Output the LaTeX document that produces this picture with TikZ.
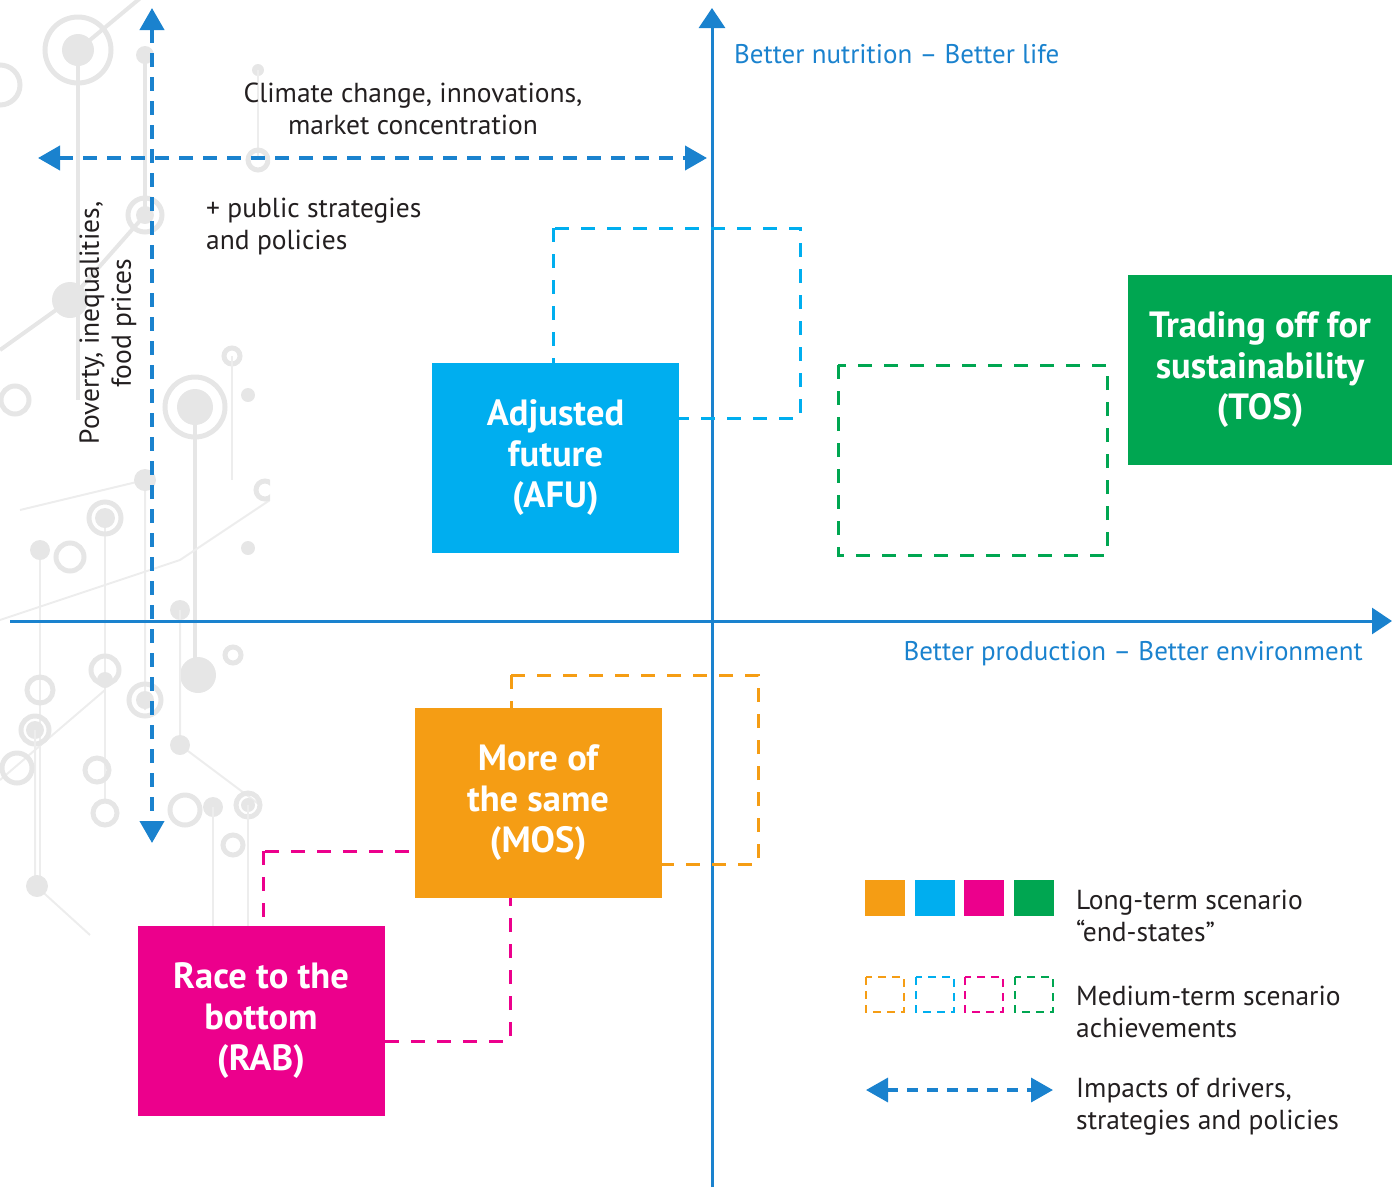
\documentclass[tikz,border=0pt]{standalone}
\usepackage{fontspec}
\setmainfont{PT Sans}
\usetikzlibrary{arrows.meta}
\definecolor{axisblue}{RGB}{26,130,206}
\definecolor{afucol}{RGB}{0,174,239}
\definecolor{toscol}{RGB}{0,166,81}
\definecolor{moscol}{RGB}{245,157,20}
\definecolor{rabcol}{RGB}{236,0,140}
\definecolor{txtcol}{RGB}{35,31,32}
\definecolor{bgcol}{RGB}{230,230,230}
\tikzset{
  axisline/.style={draw=axisblue, line width=3pt, -{Triangle[length=20pt,width=26pt]}},
  drvarrow/.style={draw=axisblue, line width=4pt, dash pattern=on 14pt off 10pt,
    {Triangle[length=22pt,width=24pt]}-{Triangle[length=22pt,width=24pt]}},
  endbox/.style={minimum width=247pt, minimum height=190pt, inner sep=0pt, text=white,
    font=\fontsize{36.5}{41}\selectfont\bfseries, align=center},
  midbox/.style={line width=3pt, dash pattern=on 14pt off 12pt},
  bodytxt/.style={text=txtcol, font=\fontsize{27.5}{32}\selectfont, inner sep=0pt},
  axtxt/.style={text=axisblue, font=\fontsize{27}{32}\selectfont, inner sep=0pt},
  bgline/.style={draw=bgcol, line width=4pt},
  bgthin/.style={draw=bgcol!70, line width=2pt},
  bgdot/.style={fill=bgcol},
  bgring/.style={draw=bgcol, line width=5pt},
}
\begin{document}
\begin{tikzpicture}[x=1pt,y=-1pt]
\useasboundingbox (0,0) rectangle (1392,1187);
% faint background circuit pattern
\begin{scope}
\clip (0,0) rectangle (270,935);
\draw[bgline] (78,50) -- (78,400);
\draw[bgring] (78,50) circle (33);
\fill[bgdot] (78,50) circle (16);
\draw[bgline] (78,50) -- (150,-10);
\draw[bgline] (145,55) -- (145,210);
\fill[bgdot] (145,55) circle (9);
\draw[bgring] (145,215) circle (17);
\fill[bgdot] (145,215) circle (9);
\draw[bgline] (145,215) -- (70,300);
\fill[bgdot] (70,300) circle (18);
\draw[bgline] (70,300) -- (0,350);
\draw[bgline] (195,405) -- (195,670);
\draw[bgring] (195,407) circle (30);
\fill[bgdot] (195,407) circle (18);
\fill[bgdot] (198,675) circle (18);
\draw[bgthin] (20,510) -- (145,480) -- (145,710);
\fill[bgdot] (145,480) circle (11);
\draw[bgring] (145,700) circle (16);
\fill[bgdot] (145,700) circle (9);
\draw[bgthin] (40,550) -- (40,880);
\fill[bgdot] (40,550) circle (10);
\draw[bgring] (70,557) circle (14);
\draw[bgthin] (105,518) -- (105,800);
\draw[bgring] (105,518) circle (16);
\fill[bgdot] (105,518) circle (10);
\draw[bgthin] (0,620) -- (180,560) -- (270,500);
\fill[bgdot] (180,610) circle (10);
\draw[bgthin] (180,610) -- (180,745) -- (260,805);
\fill[bgdot] (180,745) circle (10);
\draw[bgring] (105,670) circle (14);
\fill[bgdot] (105,680) circle (8);
\draw[bgthin] (0,780) -- (105,690);
\draw[bgring] (40,690) circle (13);
\draw[bgring] (35,730) circle (14);
\fill[bgdot] (35,730) circle (9);
\draw[bgthin] (35,730) -- (35,885) -- (90,935);
\fill[bgdot] (37,886) circle (11);
\draw[bgring] (17,768) circle (15);
\draw[bgring] (97,770) circle (12);
\draw[bgring] (105,813) circle (12);
\draw[bgring] (185,810) circle (15);
\fill[bgdot] (213,807) circle (10);
\draw[bgthin] (213,807) -- (213,935);
\draw[bgring] (248,805) circle (12);
\fill[bgdot] (248,805) circle (7);
\draw[bgthin] (248,805) -- (248,935);
\draw[bgring] (233,845) circle (10);
\draw[bgring] (15,400) circle (14);
\draw[bgring] (232,356) circle (8);
\draw[bgthin] (232,356) -- (232,480);
\fill[bgdot] (248,395) circle (7);
\draw[bgring] (265,490) circle (9);
\fill[bgdot] (248,548) circle (7);
\draw[bgring] (233,655) circle (8);
\fill[bgdot] (258,70) circle (6);
\draw[bgthin] (258,70) -- (258,160);
\draw[bgring] (258,160) circle (10);
\draw[bgring] (0,85) circle (20);
\end{scope}
% axes
\coordinate (vbot) at (712,1187);
\coordinate (vtop) at (712,8);
\coordinate (hleft) at (10,621);
\coordinate (hright) at (1392,621);
\draw[axisline] (vbot) -- (vtop);
\draw[axisline] (hleft) -- (hright);
\node[axtxt, anchor=west] (ylab) at (734,54) {Better nutrition – Better life};
\node[axtxt, anchor=east] (xlab) at (1363,654) {Better production – Better environment};
% driver arrows
\coordinate (dl) at (38,158);
\coordinate (dr) at (707,158);
\coordinate (dt) at (152,8);
\coordinate (db) at (152,843);
\draw[drvarrow] (dl) -- (dr);
\draw[drvarrow] (dt) -- (db);
\node[bodytxt, align=center] (climate) at (413,109) {Climate change, innovations,\\market concentration};
\node[bodytxt, align=left, anchor=west] (public) at (206,227) {+ public strategies\\and policies};
\node[bodytxt, align=center, rotate=90] (poverty) at (108,323) {Poverty, inequalities,\\food prices};
% medium-term dashed boxes
\draw[midbox, draw=afucol] (553,228) rectangle (800,418);
\draw[midbox, draw=toscol] (838,365) rectangle (1107,555);
\draw[midbox, draw=moscol] (511,675) rectangle (758,864);
\draw[midbox, draw=rabcol] (263,851) rectangle (510,1041);
% end-state boxes
\node[endbox, fill=afucol] (afu) at (555.5,458) {Adjusted\\future\\(AFU)};
\node[endbox, fill=toscol, minimum width=264pt] (tos) at (1260,370) {Trading off for\\sustainability\\(TOS)};
\node[endbox, fill=moscol] (mos) at (538,803) {More of\\the same\\(MOS)};
\node[endbox, fill=rabcol] (rab) at (261,1021) {Race to the\\bottom\\(RAB)};
% legend
\foreach \c/\x in {moscol/865, afucol/915, rabcol/964, toscol/1014}{
  \fill[\c] (\x,880) rectangle (\x+40,916);
  \draw[draw=\c, line width=2.5pt, dash pattern=on 8pt off 6pt] (\x+1,977) rectangle (\x+39,1012);
}
\coordinate (ll) at (866,1090);
\coordinate (lr) at (1053,1090);
\draw[drvarrow, line width=3.5pt, dash pattern=on 11pt off 9pt] (ll) -- (lr);
\node[bodytxt, align=left, anchor=west] (leg1) at (1076,916) {Long-term scenario\\“end-states”};
\node[bodytxt, align=left, anchor=west] (leg2) at (1076,1012) {Medium-term scenario\\achievements};
\node[bodytxt, align=left, anchor=west] (leg3) at (1076,1107) {Impacts of drivers,\\strategies and policies};
\end{tikzpicture}
\end{document}
